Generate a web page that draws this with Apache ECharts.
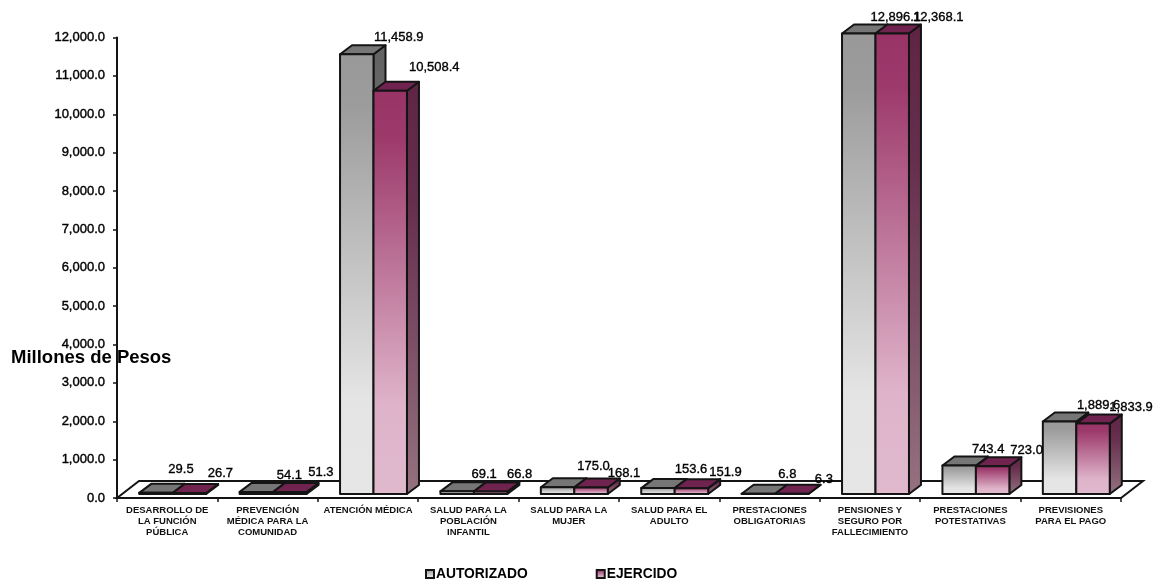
<!DOCTYPE html>
<html>
<head>
<meta charset="utf-8">
<title>Millones de Pesos</title>
<style>html,body{margin:0;padding:0;background:#fff}#chart{width:1153px;height:580px}</style>
<script src="https://cdn.jsdelivr.net/npm/echarts@6/dist/echarts.min.js"></script>
</head>
<body>
<div id="chart"></div>
<script>
const categories = [
  'DESARROLLO DE\nLA FUNCIÓN\nPÚBLICA',
  'PREVENCIÓN\nMÉDICA PARA LA\nCOMUNIDAD',
  'ATENCIÓN MÉDICA',
  'SALUD PARA LA\nPOBLACIÓN\nINFANTIL',
  'SALUD PARA LA\nMUJER',
  'SALUD PARA EL\nADULTO',
  'PRESTACIONES\nOBLIGATORIAS',
  'PENSIONES Y\nSEGURO POR\nFALLECIMIENTO',
  'PRESTACIONES\nPOTESTATIVAS',
  'PREVISIONES\nPARA EL PAGO'
];
const autorizado = [29.5, 54.1, 11458.9, 69.1, 175.0, 153.6, 6.8, 12896.1, 743.4, 1889.6];
const ejercido = [26.7, 51.3, 10508.4, 66.8, 168.1, 151.9, 6.3, 12368.1, 723.0, 1833.9];

// Hand placement of the value labels, relative to the top of each column
const autorizadoLabelDx = [25, 33, 42, 27, 36, 33, 29, 37, 29, 39];
const autorizadoLabelDy = [-23, -17, -17, -17, -21, -19, -19, -16, -16, -16];
const ejercidoLabelDx = [31, 31, 44, 29, 33, 34, 32, 46, 34, 38];
const ejercidoLabelDy = [-20, -20, -23, -17, -14, -16, -14, -16, -16, -16];

const AXIS_MAX = 12000;
const INK = '#141414';
const FONT = '"Liberation Sans", Arial, sans-serif';

// Oblique projection used for the pseudo-3D columns and floor
const DEPTH_X = 12, DEPTH_Y = 9;
const FLOOR_X = 22, FLOOR_Y = 17;
const LIFT_X = 5.5, LIFT_Y = 4;

const vertical = (stops) => ({
  type: 'linear', x: 0, y: 0, x2: 0, y2: 1,
  colorStops: stops.map(([offset, color]) => ({ offset, color }))
});

const palettes = {
  autorizado: {
    front: vertical([[0, '#999999'], [0.12, '#9c9c9c'], [0.78, '#e4e4e4'], [1, '#e6e6e6']]),
    side: vertical([[0, '#626262'], [1, '#8f8f8f']]),
    top: '#767676'
  },
  ejercido: {
    front: vertical([[0, '#993366'], [0.12, '#9d3a6c'], [0.78, '#dfb4ca'], [1, '#e0b9cd']]),
    side: vertical([[0, '#5e2444'], [0.3, '#662f4e'], [1, '#957280']]),
    top: '#70234f'
  }
};

function columnRenderer(palette, slot, labelDx, labelDy) {
  return function (params, api) {
    const i = api.value(0);
    const value = api.value(1);
    const band = api.size([1, 0])[0];
    const w = band / 3;
    const base = api.coord([i, 0]);
    const head = api.coord([i, Math.min(value, AXIS_MAX)]);
    const x0 = base[0] + LIFT_X - w + slot * w;
    const x1 = x0 + w;
    const y0 = head[1] - LIFT_Y;
    const y1 = base[1] - LIFT_Y;
    const line = { stroke: INK, lineWidth: 2, lineJoin: 'round' };
    return {
      type: 'group',
      children: [
        {
          type: 'polygon',
          shape: { points: [[x1, y0], [x1 + DEPTH_X, y0 - DEPTH_Y], [x1 + DEPTH_X, y1 - DEPTH_Y], [x1, y1]] },
          style: Object.assign({ fill: palette.side }, line)
        },
        {
          type: 'polygon',
          shape: { points: [[x0, y0], [x0 + DEPTH_X, y0 - DEPTH_Y], [x1 + DEPTH_X, y0 - DEPTH_Y], [x1, y0]] },
          style: Object.assign({ fill: palette.top }, line)
        },
        {
          type: 'rect',
          shape: { x: x0, y: y0, width: w, height: y1 - y0 },
          style: Object.assign({ fill: palette.front }, line)
        },
        {
          type: 'text',
          z2: 50,
          style: {
            x: (x0 + x1) / 2 + labelDx[i],
            y: y0 + labelDy[i],
            text: value.toLocaleString('en-US', { minimumFractionDigits: 1, maximumFractionDigits: 1 }),
            align: 'center',
            verticalAlign: 'middle',
            fill: '#000',
            stroke: '#000',
            lineWidth: 0.35,
            font: '13px ' + FONT
          }
        }
      ]
    };
  };
}

function floorRenderer(params, api) {
  const r = params.coordSys;
  const yb = r.y + r.height;
  const xr = r.x + r.width;
  return {
    type: 'polygon',
    shape: { points: [[r.x, yb], [r.x + FLOOR_X, yb - FLOOR_Y], [xr + FLOOR_X, yb - FLOOR_Y], [xr, yb]] },
    style: { fill: '#fff', stroke: INK, lineWidth: 2 }
  };
}

const toPoints = (values) => values.map((v, i) => [i, v]);

const chart = echarts.init(document.getElementById('chart'), null, { renderer: 'canvas' });
chart.setOption({
  animation: false,
  backgroundColor: '#fff',
  title: {
    text: 'Millones de Pesos',
    left: 11,
    top: 348,
    padding: 0,
    z: 20,
    textStyle: { fontFamily: FONT, fontSize: 18.5, fontWeight: 'bold', color: '#000' }
  },
  legend: {
    data: ['AUTORIZADO', 'EJERCIDO'],
    left: 425,
    top: 567,
    padding: 0,
    itemWidth: 8,
    itemHeight: 8,
    itemGap: 68,
    icon: 'rect',
    selectedMode: false,
    textStyle: { fontFamily: FONT, fontSize: 13.8, fontWeight: 'bold', color: '#000', padding: [0, 0, 0, -3] }
  },
  grid: { left: 117, right: 32, top: 37.5, bottom: 82, containLabel: false },
  xAxis: {
    type: 'category',
    data: categories,
    boundaryGap: true,
    z: 5,
    axisLine: { lineStyle: { color: INK, width: 2 } },
    axisTick: { show: true, length: 4, alignWithLabel: false, lineStyle: { color: INK, width: 1.5 } },
    axisLabel: {
      interval: 0,
      margin: 7,
      hideOverlap: false,
      fontFamily: FONT,
      fontSize: 9.5,
      fontWeight: 'bold',
      lineHeight: 11,
      color: '#111'
    }
  },
  yAxis: {
    type: 'value',
    min: 0,
    max: AXIS_MAX,
    interval: 1000,
    z: 5,
    splitLine: { show: false },
    axisLine: { show: true, lineStyle: { color: INK, width: 2 } },
    axisTick: { show: true, length: 4, lineStyle: { color: INK, width: 1.5 } },
    axisLabel: {
      margin: 12,
      fontFamily: FONT,
      fontSize: 13,
      color: '#000',
      textBorderColor: '#000',
      textBorderWidth: 0.4,
      formatter: (v) => v.toLocaleString('en-US', { minimumFractionDigits: 1, maximumFractionDigits: 1 })
    }
  },
  series: [
    {
      name: 'suelo',
      type: 'custom',
      coordinateSystem: 'cartesian2d',
      silent: true,
      z: 1,
      renderItem: floorRenderer,
      encode: { x: 0, y: 1 },
      data: [[0, 0]]
    },
    {
      name: 'AUTORIZADO',
      type: 'custom',
      coordinateSystem: 'cartesian2d',
      z: 2,
      itemStyle: { color: palettes.autorizado.front, borderColor: INK, borderWidth: 1 },
      renderItem: columnRenderer(palettes.autorizado, 0, autorizadoLabelDx, autorizadoLabelDy),
      encode: { x: 0, y: 1 },
      data: toPoints(autorizado)
    },
    {
      name: 'EJERCIDO',
      type: 'custom',
      coordinateSystem: 'cartesian2d',
      z: 3,
      itemStyle: { color: palettes.ejercido.front, borderColor: INK, borderWidth: 1 },
      renderItem: columnRenderer(palettes.ejercido, 1, ejercidoLabelDx, ejercidoLabelDy),
      encode: { x: 0, y: 1 },
      data: toPoints(ejercido)
    }
  ]
});
</script>
</body>
</html>
